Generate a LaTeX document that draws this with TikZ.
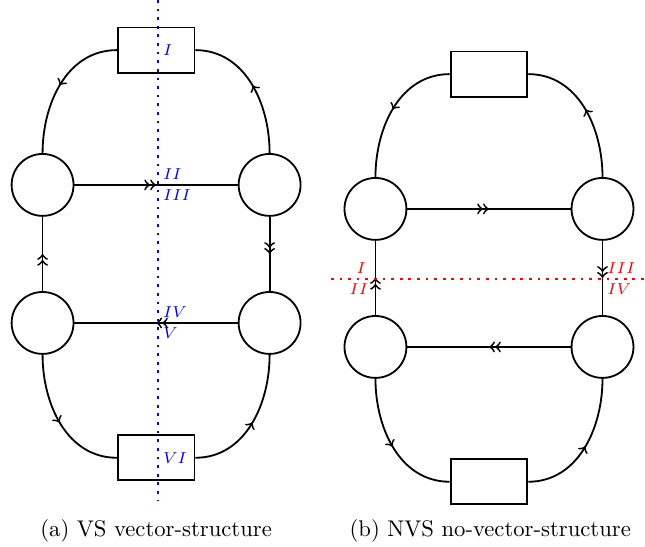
\documentclass[tikz,border=0pt]{standalone}
\usetikzlibrary{decorations.markings}
\tikzset{
  blob/.style={draw,thick,circle,minimum size=0.96cm,inner sep=0pt},
  box/.style={draw,thick,rectangle,minimum width=1.19cm,minimum height=0.7cm,inner sep=0pt},
  mid/.style={postaction={decorate},decoration={markings,mark=at position 0.5 with {\arrow{#1}}}},
  cutline/.style={line width=1.2pt,dash pattern=on 1.2pt off 2.6pt},
  cutlabel/.style={font=\scriptsize,inner sep=2pt},
}
\begin{document}
\begin{tikzpicture}
\useasboundingbox (0,0) rectangle (10,8.48);
% (a) vector-structure
\begin{scope}[shift={(2.42,4.543)}]
  \node[box] (a-top) at (0,3.16) {};
  \node[box] (a-bot) at (0,-3.16) {};
  \node[blob] (a-tl) at (-1.76,1.07) {};
  \node[blob] (a-tr) at (1.76,1.07) {};
  \node[blob] (a-bl) at (-1.76,-1.07) {};
  \node[blob] (a-br) at (1.76,-1.07) {};
  \draw[thick,mid={>}] (a-top.west) to[out=180,in=90] (a-tl.north);
  \draw[thick,mid={>}] (a-tr.north) to[out=90,in=0] (a-top.east);
  \draw[thick,mid={>}] (a-bl.south) to[out=-90,in=180] (a-bot.west);
  \draw[thick,mid={>}] (a-bot.east) to[out=0,in=-90] (a-br.south);
  \draw[thick,mid={>>}] (a-tl) -- (a-tr);
  \draw[thick,mid={>>}] (a-br) -- (a-bl);
  \draw[thick,mid={>>}] (a-bl) -- (a-tl);
  \draw[thick,mid={>>}] (a-tr) -- (a-br);
\end{scope}
\coordinate (a-cut-top) at (2.45,8.48);
\coordinate (a-cut-bot) at (2.45,0.73);
\draw[cutline,blue] (a-cut-top) -- (a-cut-bot);
\node[cutlabel,blue,anchor=west] (a-i) at (a-top -| a-cut-top) {$I$};
\node[cutlabel,blue,anchor=south west] (a-ii) at (a-tl -| a-cut-top) {$II$};
\node[cutlabel,blue,anchor=north west] (a-iii) at (a-tl -| a-cut-top) {$III$};
\node[cutlabel,blue,anchor=south west] (a-iv) at (a-bl -| a-cut-top) {$IV$};
\node[cutlabel,blue,anchor=north west] (a-v) at (a-bl -| a-cut-top) {$V$};
\node[cutlabel,blue,anchor=west] (a-vi) at (a-bot -| a-cut-top) {$VI$};
\node (a-cap) at (2.42,0.25) {(a) VS vector-structure};
% (b) no-vector-structure
\begin{scope}[shift={(7.581,4.171)}]
  \node[box] (b-top) at (0,3.16) {};
  \node[box] (b-bot) at (0,-3.16) {};
  \node[blob] (b-tl) at (-1.76,1.07) {};
  \node[blob] (b-tr) at (1.76,1.07) {};
  \node[blob] (b-bl) at (-1.76,-1.07) {};
  \node[blob] (b-br) at (1.76,-1.07) {};
  \draw[thick,mid={>}] (b-top.west) to[out=180,in=90] (b-tl.north);
  \draw[thick,mid={>}] (b-tr.north) to[out=90,in=0] (b-top.east);
  \draw[thick,mid={>}] (b-bl.south) to[out=-90,in=180] (b-bot.west);
  \draw[thick,mid={>}] (b-bot.east) to[out=0,in=-90] (b-br.south);
  \draw[thick,mid={>>}] (b-tl) -- (b-tr);
  \draw[thick,mid={>>}] (b-br) -- (b-bl);
  \draw[thick,mid={>>}] (b-bl) -- (b-tl);
  \draw[thick,mid={>>}] (b-tr) -- (b-br);
\end{scope}
\coordinate (b-cut-left) at (5.13,4.155);
\coordinate (b-cut-right) at (10,4.155);
\draw[cutline,red] (b-cut-left) -- (b-cut-right);
\node[cutlabel,red,anchor=south east,xshift=-2pt] (b-i) at (b-tl |- b-cut-left) {$I$};
\node[cutlabel,red,anchor=north east,xshift=-1pt] (b-ii) at (b-tl |- b-cut-left) {$II$};
\node[cutlabel,red,anchor=south west] (b-iii) at (b-tr |- b-cut-left) {$III$};
\node[cutlabel,red,anchor=north west] (b-iv) at (b-tr |- b-cut-left) {$IV$};
\node (b-cap) at (7.60,0.25) {(b) NVS no-vector-structure};
\end{tikzpicture}
\end{document}
